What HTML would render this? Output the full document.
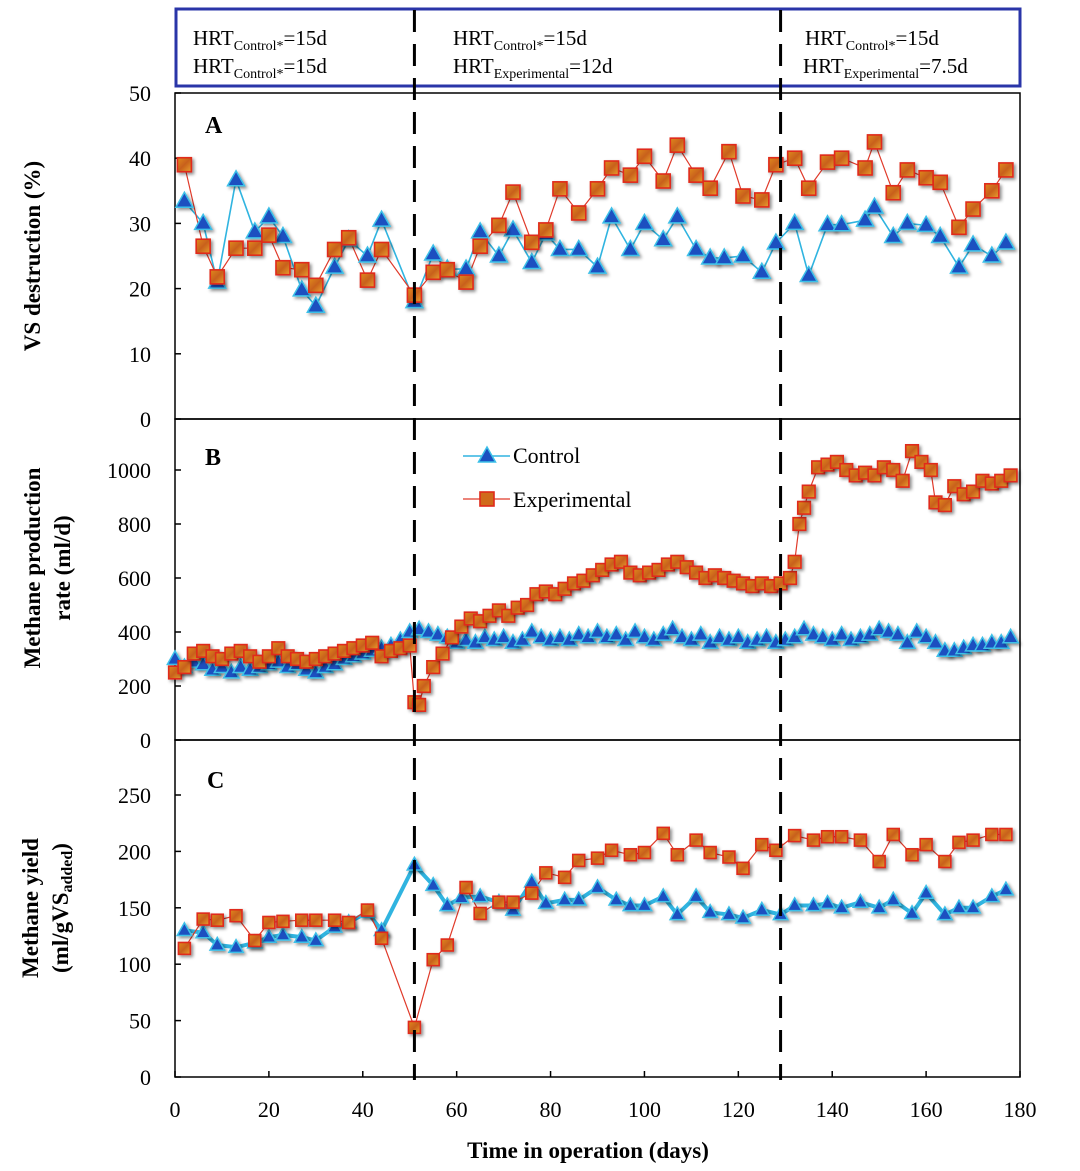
<!DOCTYPE html>
<html><head><meta charset="utf-8">
<style>
html,body{margin:0;padding:0;background:#fff;}
svg{display:block;font-family:"Liberation Serif",serif;}
</style></head>
<body>
<svg id="chart" width="1080" height="1171" viewBox="0 0 1080 1171" xmlns="http://www.w3.org/2000/svg">
<defs>
<filter id="sh" x="-50%" y="-50%" width="200%" height="200%"><feDropShadow dx="2" dy="2" stdDeviation="1.5" flood-color="#000" flood-opacity="0.45"/></filter>
<linearGradient id="sq" x1="0" y1="0" x2="1" y2="1"><stop offset="0" stop-color="#e08a1a"/><stop offset="0.5" stop-color="#c8601a"/><stop offset="1" stop-color="#e8a030"/></linearGradient>
</defs>
<g>
<rect x="176" y="9" width="844" height="77" fill="#fff" stroke="#2a35a8" stroke-width="3"/>
<text x="193" y="45" font-size="21">HRT<tspan font-size="14" dy="5">Control*</tspan><tspan dy="-5">=15d</tspan></text>
<text x="193" y="73" font-size="21">HRT<tspan font-size="14" dy="5">Control*</tspan><tspan dy="-5">=15d</tspan></text>
<text x="453" y="45" font-size="21">HRT<tspan font-size="14" dy="5">Control*</tspan><tspan dy="-5">=15d</tspan></text>
<text x="453" y="73" font-size="21">HRT<tspan font-size="14" dy="5">Experimental</tspan><tspan dy="-5">=12d</tspan></text>
<text x="805" y="45" font-size="21">HRT<tspan font-size="14" dy="5">Control*</tspan><tspan dy="-5">=15d</tspan></text>
<text x="803" y="73" font-size="21">HRT<tspan font-size="14" dy="5">Experimental</tspan><tspan dy="-5">=7.5d</tspan></text>
</g>
<g id="plots"></g>
</svg>
<script>
// Panel A: VS destruction (%)
const aCtrlDays=[2,6,9,13,17,20,23,27,30,34,37,41,44,51,55,58,62,65,69,72,76,79,82,86,90,93,97,100,104,107,111,114,117,121,125,128,132,135,139,142,147,149,153,156,160,163,167,170,174,177];
const aCtrlVals=[33.4,30,21,36.7,28.7,31,28,19.8,17.3,23.3,27.5,25,30.5,18,25.3,23,23,28.7,25,29,24,28.4,26,26,23.3,31,26,30,27.5,31,26,24.7,24.7,25,22.5,27,30,22,29.8,29.8,30.5,32.5,28,30,29.7,28,23.3,26.7,25,27];
const aExpDays=[2,6,9,13,17,20,23,27,30,34,37,41,44,51,55,58,62,65,69,72,76,79,82,86,90,93,97,100,104,107,111,114,118,121,125,128,132,135,139,142,147,149,153,156,160,163,167,170,174,177];
const aExpVals=[39,26.5,21.8,26.2,26.2,28.2,23.2,22.9,20.5,26,27.8,21.3,26,19,22.5,22.9,21,26.5,29.7,34.8,27.1,29,35.3,31.6,35.3,38.5,37.4,40.3,36.5,42,37.4,35.4,41,34.2,33.6,39,40,35.4,39.4,40,38.5,42.5,34.7,38.2,37,36.3,29.4,32.2,35,38.2];
// Panel B: methane production rate (ml/d)
const bCtrlDays=[0,2,4,6,8,10,12,14,16,18,20,22,24,26,28,30,32,34,36,38,40,42,44,46,48,50,52,54,56,58,60,62,64,66,68,70,72,74,76,78,80,82,84,86,88,90,92,94,96,98,100,102,104,106,108,110,112,114,116,118,120,122,124,126,128,130,132,134,136,138,140,142,144,146,148,150,152,154,156,158,160,162,164,166,168,170,172,174,176,178];
const bCtrlVals=[300,270,290,280,260,270,250,270,260,270,280,290,270,280,260,250,270,280,300,310,320,330,340,350,370,400,410,400,390,380,360,370,360,380,370,380,360,370,400,380,370,380,370,390,380,400,380,390,370,400,380,370,390,410,380,370,390,360,380,370,380,360,370,380,360,370,380,410,390,380,370,390,370,380,390,410,400,390,360,400,380,360,330,330,340,350,350,360,360,380];
const bExpDays=[0,2,4,6,8,10,12,14,16,18,20,22,24,26,28,30,32,34,36,38,40,42,44,46,48,50,51,52,53,55,57,59,61,63,65,67,69,71,73,75,77,79,81,83,85,87,89,91,93,95,97,99,101,103,105,107,109,111,113,115,117,119,121,123,125,127,129,131,132,133,134,135,137,139,141,143,145,147,149,151,153,155,157,159,161,162,164,166,168,170,172,174,176,178];
const bExpVals=[250,270,320,330,310,300,320,330,310,290,310,340,310,300,290,300,310,320,330,340,350,360,310,330,340,350,140,130,200,270,320,380,420,450,440,460,480,460,490,500,540,550,540,560,580,590,610,630,650,660,620,610,620,630,650,660,640,620,600,610,600,590,580,570,580,570,580,600,660,800,860,920,1010,1020,1030,1000,980,990,980,1010,1000,960,1070,1030,1000,880,870,940,910,920,960,950,960,980];
// Panel C: methane yield (ml/gVS added)
const cCtrlDays=[2,6,9,13,17,20,23,27,30,34,37,41,44,51,55,58,61,65,69,72,76,79,83,86,90,94,97,100,104,107,111,114,118,121,125,129,132,136,139,142,146,150,153,157,160,164,167,170,174,177];
const cCtrlVals=[130,128,117,115,119,124,126,124,121,133,137,146,130,188,170,152,159,160,155,148,173,154,157,157,168,157,152,152,160,144,160,146,144,141,148,144,152,152,154,150,155,150,157,145,163,144,150,150,160,166];
const cExpDays=[2,6,9,13,17,20,23,27,30,34,37,41,44,51,55,58,62,65,69,72,76,79,83,86,90,93,97,100,104,107,111,114,118,121,125,128,132,136,139,142,146,150,153,157,160,164,167,170,174,177];
const cExpVals=[114,140,139,143,121,137,138,139,139,139,137,148,123,44,104,117,168,145,155,155,163,181,177,192,194,201,197,199,216,197,210,199,195,185,206,201,214,210,213,213,210,191,215,197,206,191,208,210,215,215];
const xTicks=[0,20,40,60,80,100,120,140,160,180];
const aTicks=[0,10,20,30,40,50];
const bTicks=[0,200,400,600,800,1000];
const cTicks=[0,50,100,150,200,250];
const dividerDays=[51,129];

const NS='http://www.w3.org/2000/svg';
const G=document.getElementById('plots');
const X0=175,X1=1020;
const xs=d=>X0+(d/180)*(X1-X0);
const panels=[
 {k:'a',top:93,bot:419,max:50,ticks:aTicks,cd:aCtrlDays,cv:aCtrlVals,ed:aExpDays,ev:aExpVals,cw:1.6,ms:1},
 {k:'b',top:419,bot:740,max:1000*(740-419)/(740-470),ticks:bTicks,cd:bCtrlDays,cv:bCtrlVals,ed:bExpDays,ev:bExpVals,cw:1.6,ms:0.9},
 {k:'c',top:740,bot:1077,max:250*(1077-740)/(1077-795),ticks:cTicks,cd:cCtrlDays,cv:cCtrlVals,ed:cExpDays,ev:cExpVals,cw:4,ms:0.85}
];
function mk(tag,attrs,parent){const e=document.createElementNS(NS,tag);for(const k in attrs)e.setAttribute(k,attrs[k]);(parent||G).appendChild(e);return e;}
function tri(x,y,s,p){
 const e=mk('path',{d:`M${x},${y-9*s}L${x+8.5*s},${y+6*s}L${x-8.5*s},${y+6*s}Z`,fill:'#1a4fc0',stroke:'#3cc0e8','stroke-width':1.5,filter:'url(#sh)'},p);
 return e;
}
function sq(x,y,s,p){
 const h=7*s;
 return mk('rect',{x:x-h,y:y-h,width:2*h,height:2*h,fill:'url(#sq)',stroke:'#e02a1a','stroke-width':1.6,filter:'url(#sh)'},p);
}
panels.forEach(P=>{
 const ys=v=>P.bot-(v/P.max)*(P.bot-P.top);
 const g=mk('g',{});
 
 
 const fr=mk('rect',{x:X0,y:P.top,width:X1-X0,height:P.bot-P.top,fill:'none',stroke:'#000','stroke-width':1.5},g);
 
 
 P.ticks.forEach(t=>{
  const y=ys(t);
  mk('line',{x1:X0,x2:X0+6,y1:y,y2:y,stroke:'#000','stroke-width':1.5},g);
  const tx=mk('text',{x:151,y:y+8,'font-size':22,'text-anchor':'end'},g);
  tx.textContent=t;
  
  
 });
 // control line
 let d='';P.cd.forEach((dd,i)=>{d+=(i?'L':'M')+xs(dd)+','+ys(P.cv[i]);});
 const cl=mk('path',{d,fill:'none',stroke:'#30b4e0','stroke-width':P.cw},g);
 
 
 d='';P.ed.forEach((dd,i)=>{d+=(i?'L':'M')+xs(dd)+','+ys(P.ev[i]);});
 const el=mk('path',{d,fill:'none',stroke:'#e03a2a','stroke-width':1.2},g);
 
 
 P.cd.forEach((dd,i)=>{const m=tri(xs(dd),ys(P.cv[i]),P.ms,g);
  
  });
 P.ed.forEach((dd,i)=>{const m=sq(xs(dd),ys(P.ev[i]),P.ms,g);
  
  });
});
// x ticks
xTicks.forEach(t=>{
 mk('line',{x1:xs(t),x2:xs(t),y1:1077,y2:1071,stroke:'#000','stroke-width':1.5});
 const tx=mk('text',{x:xs(t),y:1117,'font-size':22,'text-anchor':'middle'});
 tx.textContent=t;
 
 
});
dividerDays.forEach(dd=>{
 const l=mk('line',{x1:xs(dd),x2:xs(dd),y1:10,y2:1080,stroke:'#000','stroke-width':3,'stroke-dasharray':'22,12'});
 
 
});
</script>
<svg style="position:absolute;left:0;top:0" width="1080" height="1171">
<g font-family="Liberation Serif, serif" font-weight="bold">
<text x="205" y="133" font-size="24">A</text>
<text x="205" y="465" font-size="24">B</text>
<text x="207" y="788" font-size="24">C</text>
<text transform="translate(40,256) rotate(-90)" font-size="23" text-anchor="middle">VS destruction (%)</text>
<text transform="translate(40,568) rotate(-90)" font-size="23" text-anchor="middle">Methane production</text>
<text transform="translate(70,568) rotate(-90)" font-size="23" text-anchor="middle">rate (ml/d)</text>
<text transform="translate(38,908) rotate(-90)" font-size="23" text-anchor="middle">Methane yield</text>
<text transform="translate(68,908) rotate(-90)" font-size="23" text-anchor="middle">(ml/gVS<tspan font-size="16" dy="4">added</tspan><tspan dy="-4">)</tspan></text>
<text x="588" y="1158" font-size="23" text-anchor="middle">Time in operation (days)</text>
</g>
<g>
<g>
<line x1="463" y1="456" x2="510" y2="456" stroke="#30b4e0" stroke-width="1.6"/>
<path d="M487,447L495.5,462L478.5,462Z" fill="#1a4fc0" stroke="#3cc0e8" stroke-width="1.5"/>
<text x="513" y="463" font-size="22" font-family="Liberation Serif, serif">Control</text>
</g>
<g>
<line x1="463" y1="499" x2="510" y2="499" stroke="#e03a2a" stroke-width="1.2"/>
<rect x="480" y="492" width="14" height="14" fill="#d06a1a" stroke="#e02a1a" stroke-width="1.6"/>
<text x="513" y="507" font-size="22" font-family="Liberation Serif, serif">Experimental</text>
</g>
</g>
</svg>
</body></html>
